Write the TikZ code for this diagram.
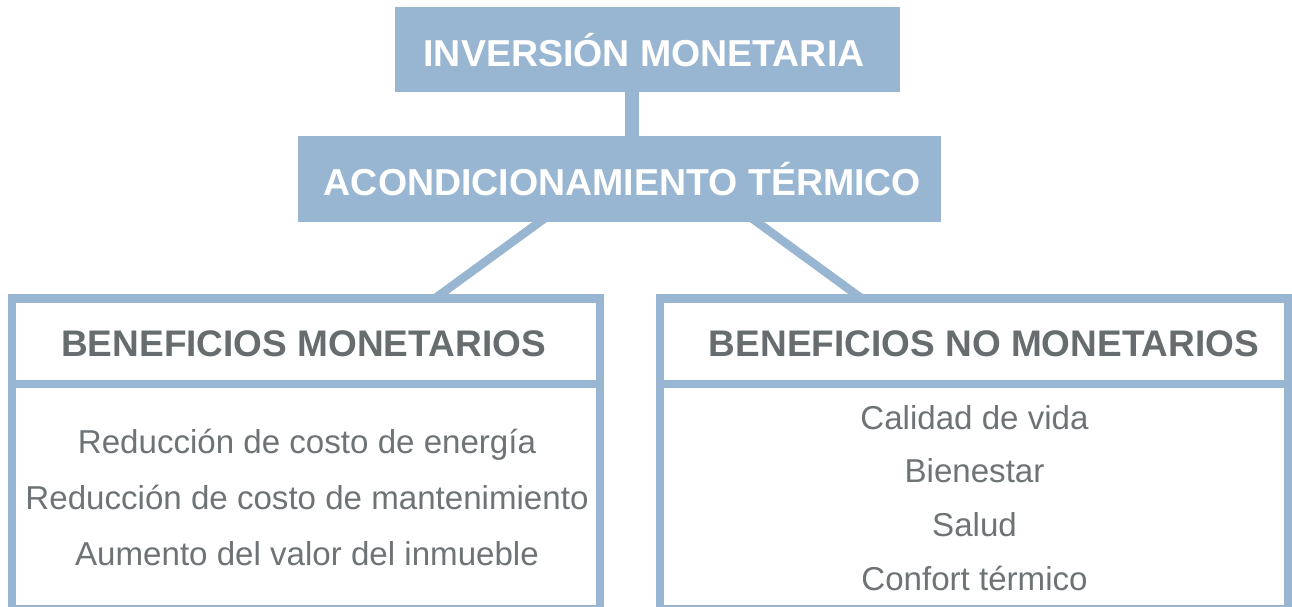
\documentclass[tikz,border=0pt]{standalone}
\usepackage{fontspec}
\setmainfont{Liberation Sans}
\pgfdeclarelayer{bg}
\pgfsetlayers{bg,main}
\definecolor{boxblue}{HTML}{98B6D2}
\definecolor{headgray}{HTML}{676C6F}
\definecolor{bodygray}{HTML}{6E7376}
\tikzset{
  topbox/.style={rectangle, fill=boxblue, inner sep=0pt, outer sep=0pt,
    text=white, font=\fontsize{37.5}{40}\selectfont\bfseries},
  outlinebox/.style={rectangle, draw=boxblue, line width=8.5pt, fill=white,
    inner sep=0pt, outer sep=0pt},
  headtext/.style={anchor=base, inner sep=0pt, text=headgray,
    font=\fontsize{37}{40}\selectfont\bfseries},
  bodytext/.style={anchor=base, inner sep=0pt, text=bodygray,
    font=\fontsize{33.1}{36}\selectfont},
  connector/.style={draw=boxblue, line width=8.5pt},
}
\begin{document}
\begin{tikzpicture}[x=1pt, y=-1pt]
\useasboundingbox (0,0) rectangle (1292,607);
% top boxes
\node[topbox, minimum width=505pt, minimum height=85.5pt] (b1) at (647.5,49.75) {\hspace*{-7pt}INVERSIÓN MONETARIA};
\node[topbox, minimum width=643pt, minimum height=85.7pt] (b2) at (619.5,178.85) {\hspace*{6pt}ACONDICIONAMIENTO TÉRMICO};
% outlined boxes
\node[outlinebox, minimum width=588pt, minimum height=310.5pt] (lb) at (306.2,453.75) {};
\node[outlinebox, minimum width=627.8pt, minimum height=310.5pt] (rb) at (974.1,453.75) {};
\draw[connector] ([yshift=-85.3pt]lb.north west) -- ([yshift=-85.3pt]lb.north east);
\draw[connector] ([yshift=-85.3pt]rb.north west) -- ([yshift=-85.3pt]rb.north east);
% connectors
\begin{pgfonlayer}{bg}
\draw[connector, line width=14pt] ([xshift=-15.5pt,yshift=5pt]b1.south) -- ([xshift=12.5pt,yshift=-5pt]b2.north);
\draw[connector, shorten <=-6pt] ([xshift=-79.5pt]b2.south) -- ([xshift=128.6pt]lb.north);
\draw[connector, shorten <=-6pt] ([xshift=137pt]b2.south) -- ([xshift=-112.4pt]rb.north);
\end{pgfonlayer}
% headers
\node[headtext] (lh) at (303.5,356.5) {BENEFICIOS MONETARIOS};
\node[headtext] (rh) at (984,356.5) {BENEFICIOS NO MONETARIOS};
% left items
\node[bodytext] (l1) at (307,453.5) {Reducción de costo de energía};
\node[bodytext] (l2) at (307,509.5) {Reducción de costo de mantenimiento};
\node[bodytext] (l3) at (307,565) {Aumento del valor del inmueble};
% right items
\node[bodytext] (r1) at (974.5,429) {Calidad de vida};
\node[bodytext] (r2) at (974.5,482) {Bienestar};
\node[bodytext] (r3) at (974.5,536.5) {Salud};
\node[bodytext] (r4) at (974.5,590) {Confort térmico};
\end{tikzpicture}
\end{document}
